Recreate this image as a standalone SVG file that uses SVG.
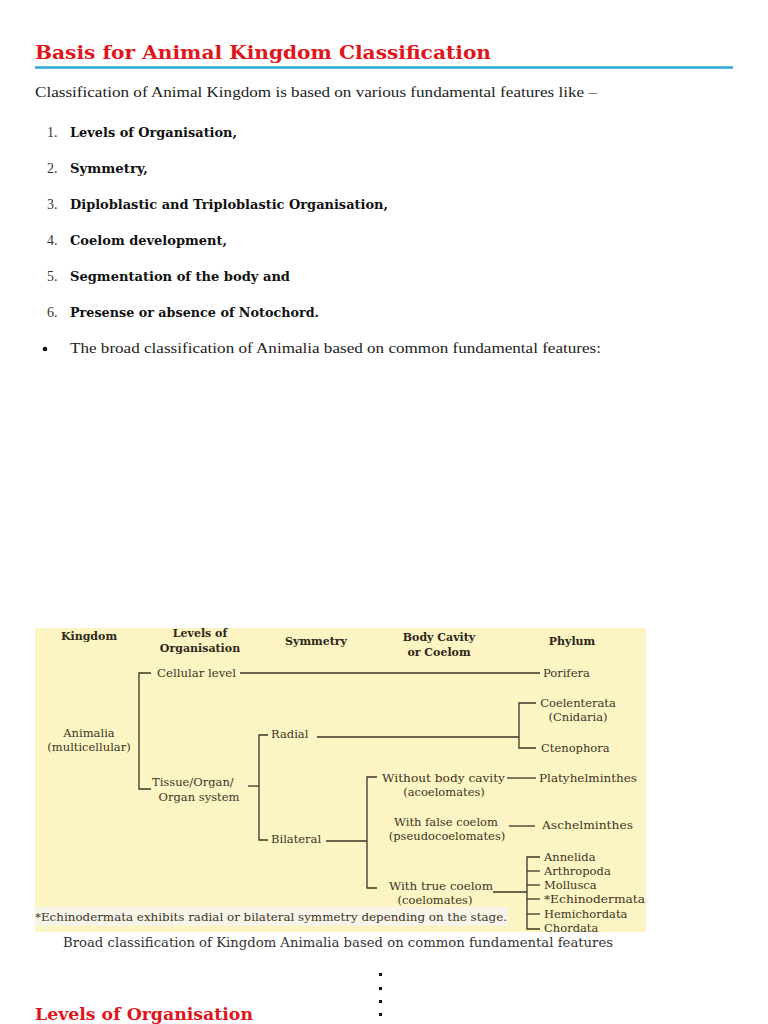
<svg xmlns="http://www.w3.org/2000/svg" width="768" height="1024" viewBox="0 0 768 1024">
<style>
.h{font-family:"DejaVu Serif","Liberation Serif",serif;font-weight:bold;fill:#e0141b}
.p{font-family:"Liberation Serif","DejaVu Serif",serif;font-size:14px;fill:#222}
.b{font-family:"DejaVu Serif","Liberation Serif",serif;font-size:12px;font-weight:bold;fill:#111}
.n{font-family:"Liberation Serif",serif;font-size:14px;fill:#333}
.d{font-family:"DejaVu Serif","Liberation Serif",serif;font-size:11.5px;fill:#3d3524}
.dh{font-family:"DejaVu Serif","Liberation Serif",serif;font-size:11px;font-weight:bold;fill:#2e2818}
.ln{stroke:#3d3524;stroke-width:1.3;fill:none}
</style>
<rect width="768" height="1024" fill="#fff"/>
<text class="h" x="35" y="59" font-size="19" textLength="456" lengthAdjust="spacingAndGlyphs">Basis for Animal Kingdom Classification</text>
<line x1="35" y1="67.5" x2="733" y2="67.5" stroke="#2aa9d9" stroke-width="2.5"/>
<text class="p" x="35" y="97" textLength="562" lengthAdjust="spacingAndGlyphs">Classification of Animal Kingdom is based on various fundamental features like –</text>
<g id="list">
<text class="n" x="47" y="137">1.</text><text class="b" x="70" y="137" textLength="167" lengthAdjust="spacingAndGlyphs">Levels of Organisation,</text>
<text class="n" x="47" y="173">2.</text><text class="b" x="70" y="173" textLength="78" lengthAdjust="spacingAndGlyphs">Symmetry,</text>
<text class="n" x="47" y="209">3.</text><text class="b" x="70" y="209" textLength="318" lengthAdjust="spacingAndGlyphs">Diploblastic and Triploblastic Organisation,</text>
<text class="n" x="47" y="245">4.</text><text class="b" x="70" y="245" textLength="157" lengthAdjust="spacingAndGlyphs">Coelom development,</text>
<text class="n" x="47" y="281">5.</text><text class="b" x="70" y="281" textLength="220" lengthAdjust="spacingAndGlyphs">Segmentation of the body and</text>
<text class="n" x="47" y="317">6.</text><text class="b" x="70" y="317" textLength="249" lengthAdjust="spacingAndGlyphs">Presense or absence of Notochord.</text>
</g>
<circle cx="45" cy="349" r="2.3" fill="#111"/>
<text class="p" x="70" y="353" textLength="531" lengthAdjust="spacingAndGlyphs">The broad classification of Animalia based on common fundamental features:</text>

<g id="diagram">
<rect x="35" y="628" width="611" height="304" fill="#fcf4c3"/>
<rect x="35" y="907" width="473" height="19" fill="#f7f4ea"/>
<g id="headers">
<text class="dh" x="89" y="640" text-anchor="middle">Kingdom</text>
<text class="dh" x="200" y="637" text-anchor="middle">Levels of</text>
<text class="dh" x="200" y="652" text-anchor="middle">Organisation</text>
<text class="dh" x="316" y="645" text-anchor="middle">Symmetry</text>
<text class="dh" x="439" y="641" text-anchor="middle">Body Cavity</text>
<text class="dh" x="439" y="656" text-anchor="middle">or Coelom</text>
<text class="dh" x="572" y="645" text-anchor="middle">Phylum</text>
</g>
<g id="n-animalia"><text class="d" x="89" y="737" text-anchor="middle">Animalia</text><text class="d" x="89" y="751" text-anchor="middle">(multicellular)</text></g>
<g id="n-cellular"><text class="d" x="157" y="677" textLength="79" lengthAdjust="spacingAndGlyphs">Cellular level</text></g>
<g id="n-tissue"><text class="d" x="152" y="786">Tissue/Organ/</text><text class="d" x="199" y="801" text-anchor="middle">Organ system</text></g>
<g id="n-radial"><text class="d" x="271" y="738">Radial</text></g>
<g id="n-bilateral"><text class="d" x="271" y="843">Bilateral</text></g>
<g id="n-acoel"><text class="d" x="382" y="782" textLength="123" lengthAdjust="spacingAndGlyphs">Without body cavity</text><text class="d" x="444" y="796" text-anchor="middle">(acoelomates)</text></g>
<g id="n-pseudo"><text class="d" x="446" y="826" text-anchor="middle">With false coelom</text><text class="d" x="447" y="840" text-anchor="middle">(pseudocoelomates)</text></g>
<g id="n-coel"><text class="d" x="389" y="890" textLength="104" lengthAdjust="spacingAndGlyphs">With true coelom</text><text class="d" x="435" y="904" text-anchor="middle">(coelomates)</text></g>
<g id="n-porifera"><text class="d" x="543" y="677">Porifera</text></g>
<g id="n-coelenterata"><text class="d" x="578" y="707" text-anchor="middle">Coelenterata</text><text class="d" x="578" y="721" text-anchor="middle">(Cnidaria)</text></g>
<g id="n-ctenophora"><text class="d" x="541" y="752">Ctenophora</text></g>
<g id="n-platy"><text class="d" x="539" y="782" textLength="98" lengthAdjust="spacingAndGlyphs">Platyhelminthes</text></g>
<g id="n-aschel"><text class="d" x="542" y="829" textLength="91" lengthAdjust="spacingAndGlyphs">Aschelminthes</text></g>
<g id="n-annelida"><text class="d" x="544" y="861">Annelida</text></g>
<g id="n-arthropoda"><text class="d" x="544" y="875">Arthropoda</text></g>
<g id="n-mollusca"><text class="d" x="544" y="889">Mollusca</text></g>
<g id="n-echino"><text class="d" x="544" y="903" textLength="101" lengthAdjust="spacingAndGlyphs">*Echinodermata</text></g>
<g id="n-hemi"><text class="d" x="544" y="918">Hemichordata</text></g>
<g id="n-chordata"><text class="d" x="544" y="932">Chordata</text></g>
<g id="connectors" class="ln">
<path d="M151 673 H139 V789 H151"/>
<line x1="240" y1="673" x2="540" y2="673"/>
<path d="M248 786 H259"/>
<path d="M268 735 H259 V840 H268"/>
<line x1="317" y1="737" x2="519" y2="737"/>
<path d="M536 703 H519 V748 H536"/>
<line x1="326" y1="841" x2="367" y2="841"/>
<path d="M377 777 H367 V888 H377"/>
<line x1="507" y1="778" x2="536" y2="778"/>
<line x1="509" y1="826" x2="535" y2="826"/>
<line x1="493" y1="892" x2="527" y2="892"/>
<path d="M540 857 H527 V929 H540"/>
<line x1="527" y1="871" x2="540" y2="871"/>
<line x1="527" y1="885" x2="540" y2="885"/>
<line x1="527" y1="899" x2="540" y2="899"/>
<line x1="527" y1="914" x2="540" y2="914"/>
</g>
<text class="d" x="35" y="921" textLength="472" lengthAdjust="spacingAndGlyphs">*Echinodermata exhibits radial or bilateral symmetry depending on the stage.</text>
</g>
<text x="63" y="947" font-family="DejaVu Serif, Liberation Serif, serif" font-size="12.5" fill="#333" textLength="550" lengthAdjust="spacingAndGlyphs">Broad classification of Kingdom Animalia based on common fundamental features</text>
<g fill="#111">
<rect x="379" y="973" width="3" height="3"/>
<rect x="379" y="987" width="3" height="3"/>
<rect x="379" y="1000" width="3" height="3"/>
<rect x="379" y="1013" width="3" height="3"/>
</g>
<text class="h" x="35" y="1020" font-size="17" textLength="218" lengthAdjust="spacingAndGlyphs">Levels of Organisation</text>
</svg>
